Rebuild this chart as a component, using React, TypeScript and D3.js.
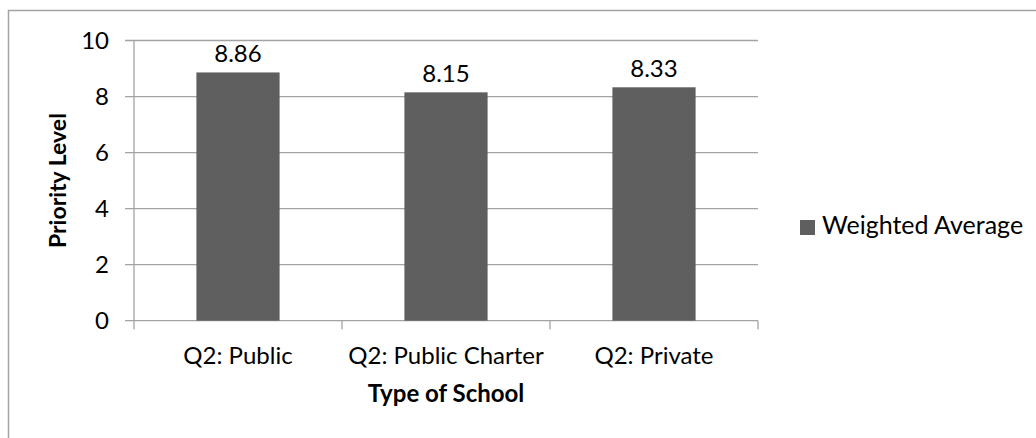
import React from "react";
import * as d3 from "d3";

// Weighted average priority level per school type
const categories: string[] = ["Q2: Public", "Q2: Public Charter", "Q2: Private"];
const weightedAverage: number[] = [8.86, 8.15, 8.33];
const yTicks: number[] = [0, 2, 4, 6, 8, 10];
const seriesName = "Weighted Average";
const xTitle = "Type of School";
const yTitle = "Priority Level";

const W = 1036;
const H = 438;
const plot = { left: 134, right: 758, top: 40.5, bottom: 320.7 };
const FONT = "Lato, 'Open Sans', sans-serif";
const FS = 24;
const GRID = "#a3a3a3";
const BAR = "#5f5f5f";

export default function App() {
  const x = d3.scaleBand<string>().domain(categories).range([plot.left, plot.right]).padding(0);
  const y = d3.scaleLinear().domain([0, 10]).range([plot.bottom, plot.top]);
  const barW = x.bandwidth() * 0.4;
  const catTicks = [plot.left, ...categories.map((c) => (x(c) as number) + x.bandwidth())];

  return (
    <svg
      width={W}
      height={H}
      style={{ position: "absolute", left: 0, top: 0, background: "#fff" }}
      fontFamily={FONT}
    >
      {/* chart frame */}
      <rect x={8.5} y={10.5} width={W + 20} height={H + 20} fill="#fff" stroke={GRID} strokeWidth={1.5} />

      {/* horizontal gridlines with left ticks */}
      {yTicks.map((t) => (
        <line key={`g${t}`} x1={plot.left - 9} x2={plot.right} y1={y(t)} y2={y(t)} stroke={GRID} strokeWidth={1.3} />
      ))}
      {/* y axis */}
      <line x1={plot.left} x2={plot.left} y1={plot.top} y2={plot.bottom} stroke={GRID} strokeWidth={1.3} />
      {/* x axis category ticks */}
      {catTicks.map((cx, i) => (
        <line key={`xt${i}`} x1={cx} x2={cx} y1={plot.bottom} y2={plot.bottom + 8.5} stroke={GRID} strokeWidth={1.3} />
      ))}

      {/* bars */}
      {categories.map((c, i) => {
        const cx = (x(c) as number) + x.bandwidth() / 2;
        return (
          <g key={c}>
            <rect x={cx - barW / 2} y={y(weightedAverage[i])} width={barW} height={plot.bottom - y(weightedAverage[i])} fill={BAR} />
            <text x={cx} y={y(weightedAverage[i]) - 10} textAnchor="middle" fontSize={FS} fill="#000">
              {weightedAverage[i].toFixed(2)}
            </text>
          </g>
        );
      })}

      {/* y tick labels */}
      {yTicks.map((t) => (
        <text key={`yl${t}`} x={109} y={y(t)} dy="0.35em" textAnchor="end" fontSize={FS} fill="#000">
          {t}
        </text>
      ))}

      {/* x tick labels */}
      {categories.map((c) => (
        <text key={`xl${c}`} x={(x(c) as number) + x.bandwidth() / 2} y={364} textAnchor="middle" fontSize={FS} fill="#000">
          {c}
        </text>
      ))}

      {/* axis titles */}
      <text x={(plot.left + plot.right) / 2} y={402} textAnchor="middle" fontSize={FS} fontWeight="bold" fill="#000">
        {xTitle}
      </text>
      <text
        transform={`translate(66, ${(plot.top + plot.bottom) / 2}) rotate(-90)`}
        textAnchor="middle"
        fontSize={23}
        fontWeight="bold"
        fill="#000"
      >
        {yTitle}
      </text>

      {/* legend */}
      <rect x={800} y={220} width={15} height={15} fill={BAR} />
      <text x={822} y={234} fontSize={25} fill="#000">
        {seriesName}
      </text>
    </svg>
  );
}
